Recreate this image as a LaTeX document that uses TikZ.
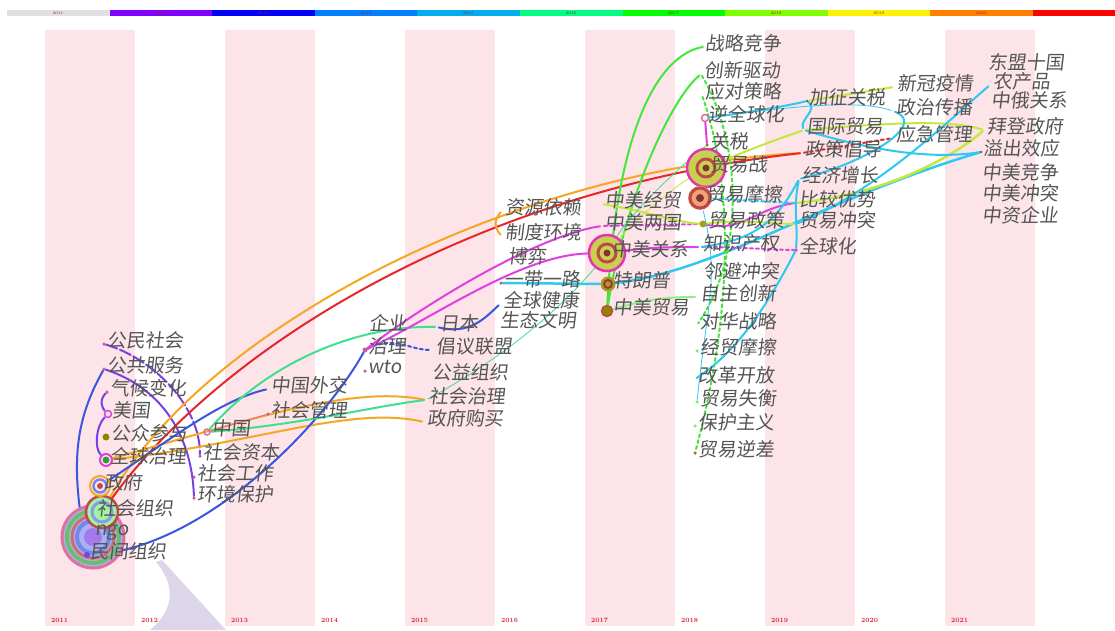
\documentclass[tikz,border=0pt]{standalone}
\usepackage{fontspec}
\usepackage{tikz}
\newfontfamily\cjk[FakeSlant=0.12]{Noto Sans CJK SC}
\definecolor{stripe}{HTML}{FCE4E9}
\definecolor{kwtext}{HTML}{555555}
\definecolor{dotc}{HTML}{C0609A}
\definecolor{yrred}{HTML}{E0243A}
\definecolor{cviolet}{HTML}{7B3FE4}
\definecolor{cblue}{HTML}{3A55E0}
\definecolor{corange}{HTML}{F5A623}
\definecolor{cred}{HTML}{E8262A}
\definecolor{cspring}{HTML}{3EE08E}
\definecolor{cmagenta}{HTML}{E040E0}
\definecolor{cpink}{HTML}{E070A0}
\definecolor{ccyan}{HTML}{2EC8F0}
\definecolor{cgreen}{HTML}{44E63C}
\definecolor{clime}{HTML}{C4E83C}
\definecolor{hubfill}{HTML}{C8D050}
\definecolor{hubred}{HTML}{C04848}
\definecolor{lav}{HTML}{DDD6EA}
\pgfdeclarelayer{bg}
\pgfdeclarelayer{links}
\pgfdeclarelayer{hubs}
\pgfsetlayers{bg,links,hubs,main}

\begin{document}
\begin{tikzpicture}[x=1pt,y=-1pt,
    link/.style={line width=2pt, line cap=round},
    thin link/.style={line width=0.8pt, line cap=round},
    dot/.style={circle, inner sep=0pt, minimum size=3.5pt, fill=dotc},
    hub/.style={circle, inner sep=0pt, minimum size=#1},
    lbl/.style={font=\cjk\fontsize{19}{19}\selectfont, text=kwtext, inner sep=1pt, yshift=4pt},
    yr/.style={font=\fontsize{6.5}{7}\selectfont\bfseries, text=yrred, inner sep=0pt, anchor=west}]
    \useasboundingbox (0,0) rectangle (1115,630);

    % time zone stripes and colour bar
    \begin{pgfonlayer}{bg}
    \fill[white] (0,0) rectangle (1115,630);
    \foreach \i in {0,2,...,10}
        \fill[stripe] ({45+90*\i},30) rectangle ({135+90*\i},626);
    \fill[lav] (156,562) .. controls (178,588) and (172,612) .. (150,630) -- (226,630) -- (162,560) -- cycle;
    \foreach \c [count=\i from 0] in {black!12,{rgb,255:red,127;green,0;blue,255},blue,{rgb,255:red,0;green,128;blue,255},cyan,{rgb,255:red,0;green,255;blue,128},{rgb,255:red,0;green,255;blue,0},{rgb,255:red,128;green,255;blue,0},yellow,orange}
        \fill[fill=\c] ({7+102.6*\i},10) rectangle ({7+102.6*(\i+1)},16);
    \fill[red] (1033,10) rectangle (1115,16);
    \end{pgfonlayer}
    \foreach \i [evaluate=\i as \y using int(2011+\i)] in {0,...,9}
        \node[font=\fontsize{4}{4}\selectfont, text=yrred!70!black, inner sep=0pt] (bar\i) at ({58+102.6*\i},13) {\y};
    \foreach \i [evaluate=\i as \y using int(2011+\i)] in {0,...,10}
        \node[yr] (yr\i) at ({51+90*\i},620) {\y};

    % 2011
    \node[dot, label={[lbl]0:公民社会}] (gmsh) at (104,344) {};
    \node[dot, label={[lbl]0:公共服务}] (ggfw) at (104,369) {};
    \node[dot, label={[lbl]0:气候变化}] (qhbh) at (107,392) {};
    \node[hub=9pt, label={[lbl, xshift=-1pt]0:美国}] (mg) at (108,414) {};
    \node[hub=8pt, label={[lbl]0:公众参与}] (gzcy) at (106,437) {};
    \node[hub=14pt, label={[lbl, xshift=-4pt]0:全球治理}] (qqzl) at (106,460) {};
    \node[hub=22pt, label={[lbl, xshift=-8pt]0:政府}] (zf) at (100,486) {};
    \node[hub=34pt, label={[lbl, xshift=-23pt]0:社会组织}] (shzz) at (102,512) {};
    \node[hub=66pt, label={[lbl, xshift=-32pt]0:ngo}] (ngo) at (93,537) {};
    \node[dot, fill=cviolet, minimum size=6pt, label={[lbl, xshift=-1pt]0:民间组织}] (mjzz) at (87,555) {};
    % 2012 - 2013
    \node[hub=8pt, label={[lbl]0:中国}] (zg) at (207,432) {};
    \node[dot, label={[lbl]0:社会资本}] (shzb) at (200,456) {};
    \node[dot, label={[lbl]0:社会工作}] (shgz) at (194,477) {};
    \node[dot, label={[lbl]0:环境保护}] (hjbh) at (194,498) {};
    \node[dot, fill=none, label={[lbl]0:中国外交}] (zgwj) at (268,389) {};
    \node[dot, label={[lbl]0:社会管理}] (shgl) at (268,414) {};
    % 2014 - 2016
    \node[dot, fill=none, label={[lbl]0:企业}] (qy) at (366,327) {};
    \node[dot, minimum size=5pt, label={[lbl]0:治理}] (zl) at (365,350) {};
    \node[dot, label={[lbl]0:wto}] (wto) at (365,371) {};
    \node[dot, fill=none, label={[lbl]0:日本}] (rb) at (437,327) {};
    \node[dot, fill=none, label={[lbl]0:倡议联盟}] (cylm) at (433,350) {};
    \node[dot, fill=none, label={[lbl]0:公益组织}] (gyzz) at (429,376) {};
    \node[dot, fill=none, label={[lbl]0:社会治理}] (shzl) at (426,400) {};
    \node[dot, fill=none, label={[lbl]0:政府购买}] (zfgm) at (424,422) {};
    \node[dot, fill=none, label={[lbl]0:资源依赖}] (zyyl) at (502,211) {};
    \node[dot, fill=none, label={[lbl]0:制度环境}] (zdhj) at (502,236) {};
    \node[dot, fill=none, label={[lbl]0:博弈}] (by) at (505,260) {};
    \node[dot, label={[lbl]0:一带一路}] (ydyl) at (501,283) {};
    \node[dot, fill=none, label={[lbl]0:全球健康}] (qqjk) at (500,304) {};
    \node[dot, fill=none, label={[lbl]0:生态文明}] (stwm) at (497,324) {};
    % 2017
    \node[dot, fill=none, label={[lbl]0:中美经贸}] (zmjm) at (602,204) {};
    \node[dot, fill=none, label={[lbl]0:中美两国}] (zmlg) at (602,226) {};
    \node[hub=38pt, label={[lbl, xshift=-15pt]0:中美关系}] (zmgx) at (607,253) {};
    \node[hub=16pt, label={[lbl, xshift=-4pt]0:特朗普}] (tlp) at (608,284) {};
    \node[hub=12pt, label={[lbl, xshift=-1pt]0:中美贸易}] (zmmy) at (607,311) {};
    % 2018
    \node[dot, fill=cgreen, label={[lbl]0:战略竞争}] (zljz) at (702,47) {};
    \node[dot, fill=none, label={[lbl]0:创新驱动}] (cxqd) at (701,74) {};
    \node[dot, fill=none, label={[lbl]0:应对策略}] (ydcl) at (702,95) {};
    \node[hub=8pt, label={[lbl, xshift=-2pt]0:逆全球化}] (nqqh) at (705,118) {};
    \node[dot, fill=olive, label={[lbl]0:关税}] (gs) at (707,145) {};
    \node[hub=40pt, label={[lbl, xshift=-17pt]0:贸易战}] (ymz) at (706,168) {};
    \node[hub=26pt, label={[lbl, xshift=-8pt]0:贸易摩擦}] (ymmc) at (700,198) {};
    \node[hub=8pt, label={[lbl]0:贸易政策}] (ymzc) at (703,224) {};
    \node[dot, fill=none, label={[lbl]0:知识产权}] (zscq) at (700,247) {};
    \node[dot, fill=none, label={[lbl]0:邻避冲突}] (lbct) at (700,275) {};
    \node[dot, fill=none, label={[lbl]0:自主创新}] (zzcx) at (697,297) {};
    \node[dot, fill=none, label={[lbl]0:对华战略}] (dhzl) at (697,325) {};
    \node[dot, fill=cgreen!70, label={[lbl]0:经贸摩擦}] (jmmc) at (697,351) {};
    \node[dot, fill=none, label={[lbl]0:改革开放}] (ggkf) at (695,379) {};
    \node[dot, fill=cgreen!70, label={[lbl]0:贸易失衡}] (ymsh) at (697,402) {};
    \node[dot, fill=cgreen!70, label={[lbl]0:保护主义}] (bhzy) at (695,426) {};
    \node[dot, fill=olive, label={[lbl]0:贸易逆差}] (ymnc) at (695,453) {};
    % 2019 - 2021
    \node[dot, fill=kwtext, minimum size=2.5pt, label={[lbl]0:加征关税}] (zzgs) at (807,101) {};
    \node[dot, fill=none, label={[lbl]0:国际贸易}] (gjmy) at (804,130) {};
    \node[dot, fill=none, label={[lbl]0:政策倡导}] (zccd) at (802,153) {};
    \node[dot, fill=none, label={[lbl]0:经济增长}] (jjzz) at (799,179) {};
    \node[dot, fill=none, label={[lbl]0:比较优势}] (bjys) at (796,203) {};
    \node[dot, fill=none, label={[lbl]0:贸易冲突}] (myct) at (796,224) {};
    \node[dot, fill=cmagenta, label={[lbl]0:全球化}] (qqh) at (796,250) {};
    \node[dot, fill=none, label={[lbl]0:新冠疫情}] (xgyq) at (894,87) {};
    \node[dot, fill=none, label={[lbl]0:政治传播}] (zzcb) at (893,111) {};
    \node[dot, fill=none, label={[lbl]0:应急管理}] (yjgl) at (893,138) {};
    \node[dot, fill=none, label={[lbl]0:东盟十国}] (dmsg) at (985,66) {};
    \node[dot, fill=none, label={[lbl]0:农产品}] (ncp) at (990,85) {};
    \node[dot, fill=none, label={[lbl]0:中俄关系}] (zegx) at (988,104) {};
    \node[dot, fill=none, label={[lbl]0:拜登政府}] (bdzf) at (984,130) {};
    \node[dot, fill=kwtext, minimum size=2.5pt, label={[lbl]0:溢出效应}] (ycxy) at (981,152) {};
    \node[dot, fill=none, label={[lbl]0:中美竞争}] (zmjz) at (979,176) {};
    \node[dot, fill=none, label={[lbl]0:中美冲突}] (zmct) at (979,197) {};
    \node[dot, fill=none, label={[lbl]0:中资企业}] (zzqy) at (979,219) {};

    % rings of the bigger keywords
    \begin{pgfonlayer}{hubs}
    \fill[cblue!45] (ngo) circle (31pt);
    \draw[cpink, line width=3pt] (ngo) circle (31pt);
    \draw[cgreen!70!black!70, line width=4pt] (ngo) circle (26pt);
    \draw[hubred!80, line width=3pt] (ngo) circle (21pt);
    \draw[cblue!70, line width=4pt] (ngo) circle (16pt);
    \fill[cviolet!70] (ngo) circle (9pt);
    \fill[cgreen!50] (shzz) circle (16pt);
    \draw[hubred, line width=2.5pt] (shzz) circle (16pt);
    \draw[cblue!60, line width=3pt] (shzz) circle (10pt);
    \draw[corange, line width=2pt] (zf) circle (10pt);
    \draw[cblue!70, line width=2.5pt] (zf) circle (6.5pt);
    \fill[hubred] (zf) circle (3pt);
    \draw[cmagenta, line width=2pt] (qqzl) circle (6pt);
    \fill[cgreen!70!black] (qqzl) circle (3.5pt);
    \draw[cmagenta, line width=1.5pt] (mg) circle (3.5pt);
    \fill[olive] (gzcy) circle (3.5pt);
    \draw[cpink, line width=1.5pt] (zg) circle (3pt);
    \fill[hubfill] (zmgx) circle (18pt);
    \draw[cmagenta!80!red, line width=2.5pt] (zmgx) circle (18pt);
    \draw[hubred, line width=3pt] (zmgx) circle (9pt);
    \fill[hubred!70!black] (zmgx) circle (3.5pt);
    \fill[hubfill] (ymz) circle (19pt);
    \draw[cmagenta!80!red, line width=2.5pt] (ymz) circle (19pt);
    \draw[hubred, line width=3pt] (ymz) circle (9pt);
    \fill[hubred!70!black] (ymz) circle (3.5pt);
    \fill[hubred!45!orange!60] (ymmc) circle (12pt);
    \draw[hubred, line width=3pt] (ymmc) circle (10pt);
    \fill[hubred!70!black] (ymmc) circle (4pt);
    \fill[olive!80] (tlp) circle (7.5pt);
    \draw[hubred!80!black, line width=2pt] (tlp) circle (4pt);
    \fill[olive] (zmmy) circle (5.5pt);
    \draw[hubred, line width=1.5pt] (zmmy) circle (5.5pt);
    \draw[cpink, line width=1.5pt] (nqqh) circle (3.5pt);
    \fill[olive!80] (ymzc) circle (3.5pt);
    \end{pgfonlayer}

    \begin{pgfonlayer}{links}
    % 2011 - 2013
    \draw[link, cblue] (ggfw) .. controls +(-34,60) and +(-14,-80) .. (mjzz);
    \draw[link, cviolet, dash pattern=on 12pt off 3pt] (gmsh) .. controls +(50,15) and +(0,-50) .. (shzb);
    \draw[link, cviolet] (ggfw) .. controls +(60,20) and +(-2,-60) .. (hjbh);
    \draw[link, cviolet] (qhbh) .. controls +(-8,8) and +(-6,-6) .. (mg);
    \draw[link, cviolet] (mg) .. controls +(-12,12) and +(-12,-12) .. (qqzl);
    \draw[link, corange] (shzz) .. controls (200,335) and (500,170) .. (zccd);
    \draw[link, cred] (shzz) .. controls (220,350) and (470,190) .. (zccd);
    \draw[link, corange] (qqzl) .. controls (250,420) and (350,385) .. (shzl);
    \draw[link, corange] (qqzl) .. controls (250,445) and (350,405) .. (zfgm);
    \draw[link, cblue] (zf) .. controls (170,440) and (220,400) .. (zgwj);
    \draw[link, cblue] (mjzz) .. controls (200,550) and (320,430) .. (zl);
    \draw[link, cspring] (zg) .. controls (270,360) and (360,325) .. (rb);
    \draw[link, cspring] (zg) .. controls (300,425) and (380,405) .. (shzl);
    \draw[thin link, cpink] (zg) -- (shgl);
    % 2014 - 2017
    \draw[link, cblue, dashed] (zl) .. controls +(30,-15) and +(-25,0) .. (cylm);
    \draw[link, cblue] (rb) .. controls (470,335) and (485,318) .. (qqjk);
    \draw[link, cmagenta] (zl) .. controls (430,320) and (520,255) .. (zmgx);
    \draw[link, cmagenta] (zl) .. controls (430,300) and (540,235) .. (zmlg);
    \draw[link, corange] (zyyl) .. controls +(-8,8) and +(-8,-8) .. (zdhj);
    \draw[link, ccyan, line width=2.5pt] (ydyl) -- (tlp);
    \draw[thin link, cspring] (shzl) .. controls (500,360) and (560,310) .. (zmgx);
    \draw[link, cgreen] (zmmy) .. controls (615,150) and (650,60) .. (zljz);
    \draw[link, cgreen] (zmmy) .. controls (625,200) and (670,100) .. (cxqd);
    \draw[link, cgreen!60] (zmmy) .. controls +(40,-12) and +(-30,0) .. (zzcx);
    \draw[link, cmagenta, dashed] (zmlg) -- (ymzc);
    \draw[link, cmagenta] (zmgx) .. controls +(40,-5) and +(-40,0) .. (zscq);
    \draw[link, clime] (zmjm) .. controls (650,212) and (675,222) .. (ymzc);
    \draw[thin link, clime] (ymz) .. controls (670,190) and (635,220) .. (zmgx);
    \draw[thin link, cspring] (gs) .. controls (670,175) and (630,215) .. (zmgx);
    \draw[link, ccyan, line width=2.5pt] (tlp) .. controls (720,270) and (820,200) .. (ycxy);
    % 2018 - 2019
    \draw[link, cgreen, dashed] (ydcl) .. controls (738,200) and (728,330) .. (ymnc);
    \draw[link, cgreen, dashed] (cxqd) .. controls (745,150) and (742,260) .. (dhzl);
    \draw[link, cmagenta] (nqqh) -- (gs);
    \draw[link, cmagenta] (ymzc) .. controls +(40,8) and +(-40,5) .. (bjys);
    \draw[link, cmagenta, dashed] (zscq) .. controls +(40,0) and +(-20,0) .. (qqh);
    \draw[link, clime] (ymzc) .. controls +(40,-5) and +(-20,0) .. (myct);
    \draw[link, ccyan, dashed] (ymmc) -- (bjys);
    \draw[link, ccyan] (qqh) .. controls (770,300) and (740,350) .. (ggkf);
    \draw[thin link, ccyan] (ymmc) .. controls +(20,80) and +(10,-100) .. (ymsh);
    \draw[link, ccyan] (jjzz) .. controls +(-6,30) and +(2,-30) .. (qqh);
    \draw[link, ccyan] (zscq) .. controls (760,240) and (780,215) .. (jjzz);
    \draw[link, ccyan] (nqqh) .. controls +(40,-5) and +(-20,5) .. (zzgs);
    \draw[link, clime] (ymz) .. controls (760,145) and (790,135) .. (gjmy);
    % 2019 - 2021
    \draw[link, cred, dashed] (zccd) -- (yjgl);
    \draw[link, clime] (zzgs) -- (xgyq);
    \draw[link, ccyan] (zzgs) .. controls +(12,8) and +(-5,-10) .. (gjmy);
    \draw[thin link, ccyan] (nqqh) .. controls (800,105) and (860,100) .. (zzcb);
    \draw[link, clime, line width=2.5pt] (bjys) .. controls (880,195) and (950,160) .. (bdzf);
    \draw[link, clime] (gjmy) .. controls (900,122) and (950,120) .. (bdzf);
    \draw[link, ccyan] (gjmy) .. controls (870,150) and (930,160) .. (ycxy);
    \draw[link, ccyan] (myct) .. controls (880,190) and (960,110) .. (ncp);
    \draw[link, ccyan] (jjzz) .. controls (860,165) and (930,125) .. (zzcb);
    \end{pgfonlayer}
\end{tikzpicture}
\end{document}
